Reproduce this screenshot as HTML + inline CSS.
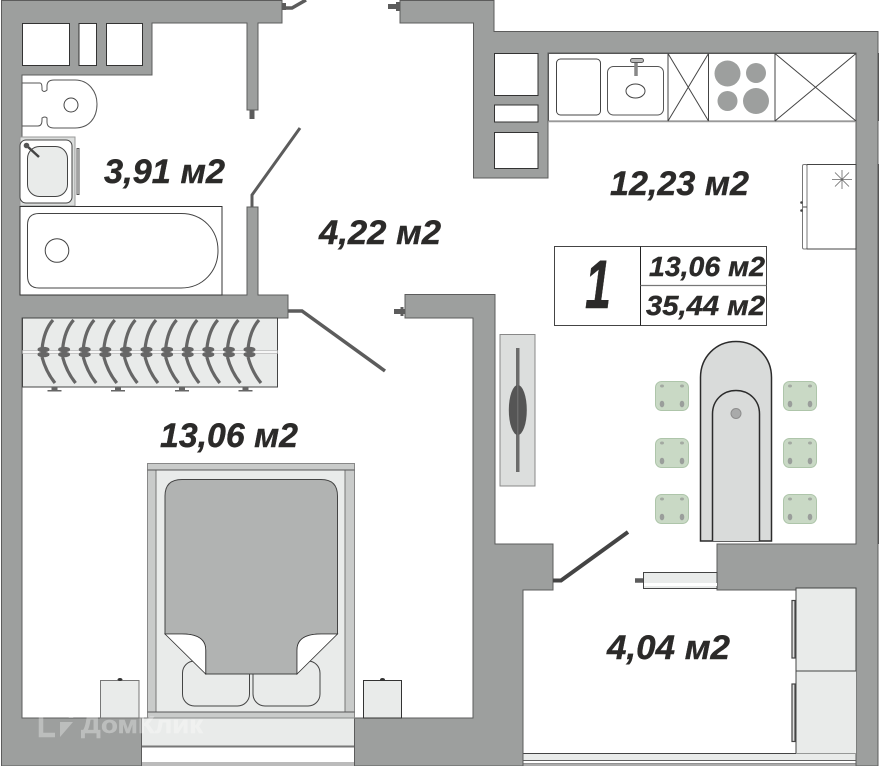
<!DOCTYPE html>
<html><head><meta charset="utf-8"><style>
html,body{margin:0;padding:0;background:#fff;width:879px;height:766px;overflow:hidden}
svg{display:block}
text{font-family:"Liberation Sans",sans-serif;font-weight:bold;font-style:italic;fill:#2b2a29;stroke:#2b2a29;stroke-width:.4px}
</style></head><body>
<svg width="879" height="766" viewBox="0 0 879 766" xmlns="http://www.w3.org/2000/svg">
<rect width="879" height="766" fill="#fff"/>
<!-- bedroom window -->
<rect x="141.500" y="718" width="213" height="48" fill="#fff"/>
<rect x="141.500" y="718" width="213" height="28" fill="#e9ebea" stroke="#777" stroke-width="1"/>
<rect x="141.500" y="747" width="213" height="16" fill="#fff" stroke="#777" stroke-width="1"/>
<rect x="141.500" y="763" width="213" height="3" fill="#bbb"/>
<!-- balcony window -->
<rect x="521.500" y="753.500" width="335" height="7" fill="#e9ebea" stroke="#444" stroke-width="1"/>
<rect x="521.500" y="760.500" width="335" height="3" fill="#fff" stroke="#444" stroke-width=".7"/>
<rect x="521.500" y="763.500" width="335" height="2.500" fill="#aaa"/>
<!-- walls -->
<g fill="#9d9f9e" stroke="#5c5c5c" stroke-width="1">
<path d="M1.500,0.500H282V23H258V110H247V23H152V75H22V295H247V207H258V295H288V318H22V718H141.500V766H1.500Z"/>
<path d="M400,0.500H494V31.500H878V766H856V590H717V544H856V53H548V178H473.500V23H400Z"/>
<path d="M405,294.500H495V544H553V590H523V766H354.500V718H473V318H405Z"/>
</g>
<!-- niches -->
<g fill="#fff" stroke="#333" stroke-width="1">
<rect x="22.500" y="23.500" width="47" height="42"/>
<rect x="79" y="23.500" width="17.500" height="42"/>
<rect x="106.500" y="23.500" width="36" height="42"/>
<rect x="494.500" y="53.500" width="43.500" height="42"/>
<rect x="494.500" y="105" width="43.500" height="17"/>
<rect x="494.500" y="132.500" width="43.500" height="36"/>
</g>
<rect x="877.500" y="53" width="1.500" height="68" fill="#555"/>
<rect x="877.500" y="164" width="1.500" height="380" fill="#555"/>
<!-- doors -->
<g fill="none" stroke="#5c5c5c" stroke-linejoin="miter">
<path d="M283,8H292L306,0" stroke-width="3.500"/>
<path d="M284,3V10" stroke-width="4"/>
<path d="M388,6.500H400" stroke-width="5"/>
<path d="M398,2V11" stroke-width="4"/>
<path d="M252,110V119" stroke-width="5"/>
<path d="M300,128L252,195V207" stroke-width="3"/>
<path d="M288,311H302L385,371" stroke-width="3.500"/>
<path d="M394,311.500H405" stroke-width="5"/>
<path d="M402,307V316" stroke-width="3"/>
<path d="M553,580.500H561L628,532" stroke="#444" stroke-width="4"/>
<path d="M635,580.500H644" stroke-width="4.500"/>
</g>
<rect x="643.500" y="572.500" width="73.500" height="16" fill="#e9ebea" stroke="#444" stroke-width="1"/>
<rect x="644" y="583" width="73" height="3" fill="#fff"/>
<!-- toilet -->
<path d="M22,83H40Q42,83 42,88V90Q44,93 47,90V86Q47,80 54,80H75C89,80 97,92 97,104C97,118 89,128 75,128H54Q47,128 47,122V118Q45,116 42,118V120Q42,126 38,126H22Z" fill="#fff" stroke="#555" stroke-width="1"/>
<circle cx="71" cy="105" r="7" fill="#fff" stroke="#444" stroke-width="1"/>
<!-- sink -->
<rect x="20" y="137" width="55" height="69" fill="#dcdedd" stroke="#999" stroke-width="1"/>
<rect x="20" y="140" width="52" height="63" rx="6" fill="#fff" stroke="#444" stroke-width="1"/>
<rect x="27.500" y="146.500" width="40" height="50" rx="12" fill="#e9ebea" stroke="#444" stroke-width="1"/>
<path d="M27,146L39,157" stroke="#444" stroke-width="2.500"/>
<circle cx="26.500" cy="145.500" r="2.800" fill="#555"/>
<path d="M78,148V195" stroke="#555" stroke-width="3" fill="none"/>
<path d="M78,149V194" stroke="#eee" stroke-width="1" fill="none"/>
<!-- bath -->
<rect x="20" y="206.500" width="202" height="88.500" fill="#fff" stroke="#333" stroke-width="1"/>
<path d="M39,213.500H181C203,213.500 218,230 218,250.500C218,271 203,288 181,288H39Q27.500,288 27.500,276V225Q27.500,213.500 39,213.500Z" fill="#fff" stroke="#444" stroke-width="1"/>
<circle cx="57" cy="250.500" r="11.800" fill="#fff" stroke="#444" stroke-width="1"/>
<!-- kitchen counter -->
<rect x="548.500" y="53.500" width="307.500" height="67.500" fill="#fff" stroke="#555" stroke-width="1"/>
<path d="M548,121.500H856" stroke="#999" stroke-width="1.500"/>
<rect x="556.500" y="59" width="44" height="56" rx="4" fill="#fff" stroke="#444" stroke-width="1"/>
<rect x="607.500" y="66.500" width="56" height="48.500" rx="6" fill="#fff" stroke="#555" stroke-width="1"/>
<ellipse cx="635.500" cy="91" rx="9.500" ry="7" fill="#fff" stroke="#444" stroke-width="1"/>
<path d="M636,60V76" stroke="#888" stroke-width="3.500"/>
<rect x="630.500" y="58.500" width="13" height="4" rx="2" fill="#bbb" stroke="#555" stroke-width="1"/>
<g stroke="#444" stroke-width="1" fill="none">
<path d="M668,53.500V121M708.500,53.500V121M775,53.500V121"/>
<path d="M668,53.500L708.500,121M708.500,53.500L668,121"/>
<path d="M775,53.500L856,121M856,53.500L775,121"/>
</g>
<g fill="#9d9f9e">
<circle cx="727.500" cy="73.500" r="13"/><circle cx="756" cy="73" r="10"/>
<circle cx="727.500" cy="101" r="10"/><circle cx="756" cy="101" r="13"/>
</g>
<!-- fridge -->
<rect x="807" y="164.500" width="49" height="84.500" fill="#fff" stroke="#444" stroke-width="1"/>
<rect x="802.500" y="164.500" width="4.500" height="84.500" rx="1.500" fill="#fff" stroke="#777" stroke-width="1"/>
<circle cx="801.500" cy="202.500" r="1.300" fill="#444"/><circle cx="801.500" cy="210.500" r="1.300" fill="#444"/>
<path d="M807,207H803" stroke="#444" stroke-width="1"/>
<path d="M842,170V189M832,179.500H852M835,172.500L849,186.500M849,172.500L835,186.500" stroke="#666" stroke-width=".8"/>
<!-- legend -->
<rect x="554.500" y="246.500" width="212" height="79" fill="#fff" stroke="#444" stroke-width="1"/>
<path d="M640.500,246.500V325.500" stroke="#222" stroke-width="1"/>
<path d="M640.500,285.500H766.500" stroke="#777" stroke-width="1.200"/>
<text x="585" y="308" font-size="69" textLength="26" lengthAdjust="spacingAndGlyphs">1</text>
<text x="649" y="276" font-size="28" textLength="116" lengthAdjust="spacingAndGlyphs">13,06 м2</text>
<text x="646" y="315" font-size="28" textLength="119" lengthAdjust="spacingAndGlyphs">35,44 м2</text>
<!-- TV -->
<rect x="500" y="334.500" width="35" height="151.500" fill="#dcdedd" stroke="#888" stroke-width="1"/>
<rect x="516" y="348" width="3.500" height="124" fill="#6b6b6b"/>
<ellipse cx="517.800" cy="410" rx="9" ry="25" fill="#555"/>
<path d="M517.800,385V435" stroke="#777" stroke-width="1"/>
<!-- table -->
<path d="M700.500,541V377.500C700.500,357 716,341.500 736,341.500C756,341.500 771.500,357 771.500,377.500V541Z" fill="#d9dbda" stroke="#2b2b2b" stroke-width="1.500"/>
<path d="M712.500,541V414C712.500,400 723,390.500 736,390.500C749,390.500 759.500,400 759.500,414V541" fill="#d9dbda" stroke="#2b2b2b" stroke-width="1.500"/>
<circle cx="736" cy="413.500" r="5" fill="#a9aaaa" stroke="#8d8d8d" stroke-width="1"/>
<!-- chairs -->
<defs><g id="ch">
<rect x="0.500" y="0.500" width="33" height="29" rx="6" fill="#c9d9c5" stroke="#aec5aa" stroke-width="1"/>
<ellipse cx="7" cy="5" rx="2" ry="1.500" fill="#a3a9a1"/><ellipse cx="27" cy="5" rx="2" ry="1.500" fill="#a3a9a1"/>
<ellipse cx="7" cy="23" rx="2.300" ry="3.300" fill="#9a9e9b"/><ellipse cx="27" cy="23" rx="2.300" ry="3.300" fill="#9a9e9b"/>
</g></defs>
<use href="#ch" x="655" y="381"/><use href="#ch" x="783" y="381"/>
<use href="#ch" x="655" y="438"/><use href="#ch" x="783" y="438"/>
<use href="#ch" x="655" y="494"/><use href="#ch" x="783" y="494"/>
<!-- wardrobe -->
<rect x="22.500" y="318" width="255" height="69" fill="#e9ebea" stroke="#444" stroke-width="1"/>
<rect x="22.500" y="350.500" width="255" height="3" fill="#f6f6f6" stroke="#aaa" stroke-width=".6"/>
<defs><g id="hg">
<path d="M42,349Q44,330 53,320" fill="none" stroke="#666" stroke-width="3.200"/>
<path d="M42,357Q46,372 55,383" fill="none" stroke="#666" stroke-width="3.200"/>
<ellipse cx="43.500" cy="349.500" rx="6" ry="2.800" fill="#666"/>
<ellipse cx="43.500" cy="354.500" rx="6" ry="2.800" fill="#666"/>
</g></defs>
<use href="#hg"/><use href="#hg" x="20.600"/><use href="#hg" x="41.200"/><use href="#hg" x="61.800"/><use href="#hg" x="82.400"/><use href="#hg" x="103"/><use href="#hg" x="123.600"/><use href="#hg" x="144.200"/><use href="#hg" x="164.800"/><use href="#hg" x="185.400"/><use href="#hg" x="206"/>
<g fill="#666">
<rect x="47.500" y="390" width="14" height="1.500"/><rect x="51.500" y="387" width="6" height="3"/>
<rect x="111" y="390" width="14" height="1.500"/><rect x="115" y="387" width="6" height="3"/>
<rect x="175" y="390" width="14" height="1.500"/><rect x="179" y="387" width="6" height="3"/>
<rect x="238.500" y="390" width="14" height="1.500"/><rect x="242.500" y="387" width="6" height="3"/>
</g>
<!-- bed -->
<rect x="147.500" y="463.500" width="207" height="254.500" fill="#c9cbca" stroke="#888" stroke-width="1"/>
<rect x="156" y="470" width="189" height="242" fill="#e9ebea" stroke="#777" stroke-width="1"/>
<path d="M147.500,470H354.500M147.500,712H354.500" stroke="#555" stroke-width="1"/>
<rect x="182.500" y="661" width="67" height="45" rx="12" fill="#e9ebea" stroke="#444" stroke-width="1"/>
<rect x="253" y="661" width="67" height="45" rx="12" fill="#e9ebea" stroke="#444" stroke-width="1"/>
<path d="M165,496Q165,479.500 182,479.500H321Q337.500,479.500 337.500,496V634H321Q297,634 297,650V674H205.700V650Q205.700,634 182,634H165Z" fill="#b1b3b2" stroke="#444" stroke-width="1"/>
<path d="M165,634H182Q205.700,634 205.700,650V674Z" fill="#fff" stroke="#333" stroke-width=".8"/>
<path d="M337.500,634H321Q297,634 297,650V674Z" fill="#fff" stroke="#333" stroke-width=".8"/>
<!-- nightstands -->
<rect x="100.500" y="680.500" width="38.500" height="37.500" fill="#e9ebea" stroke="#777" stroke-width="1"/>
<rect x="363.500" y="680.500" width="38" height="37.500" fill="#e9ebea" stroke="#333" stroke-width="1"/>
<ellipse cx="120" cy="679.500" rx="2.500" ry="1.500" fill="#333"/>
<ellipse cx="382.500" cy="679.500" rx="2.500" ry="1.500" fill="#333"/>
<!-- closet -->
<rect x="796" y="588" width="60" height="83" fill="#e9ebea" stroke="#444" stroke-width="1"/>
<rect x="796" y="671" width="60" height="82.500" fill="#e9ebea" stroke="#444" stroke-width="0"/>
<path d="M796,671V753M796,671H856" stroke="#444" stroke-width="1" fill="none"/>
<g fill="none" stroke="#444" stroke-width="1.200">
<rect x="792" y="600.500" width="3" height="57.500" fill="#ddd"/>
<rect x="792" y="684" width="3" height="57.500" fill="#ddd"/>
</g>
<!-- labels -->
<text x="104" y="183" font-size="34" textLength="121" lengthAdjust="spacingAndGlyphs">3,91 м2</text>
<text x="610" y="195" font-size="34" textLength="139" lengthAdjust="spacingAndGlyphs">12,23 м2</text>
<text x="319" y="244" font-size="34" textLength="122" lengthAdjust="spacingAndGlyphs">4,22 м2</text>
<text x="160" y="447" font-size="34" textLength="138" lengthAdjust="spacingAndGlyphs">13,06 м2</text>
<text x="607" y="659" font-size="34" textLength="123" lengthAdjust="spacingAndGlyphs">4,04 м2</text>
<!-- watermark -->
<g opacity=".32">
<path d="M71,718V714L55,704L41,713V735H55" fill="none" stroke="#fff" stroke-width="4.500"/>
<path d="M60,722H73L60,737Z" fill="#fff"/>
<text x="81" y="733" font-size="24" textLength="122" lengthAdjust="spacingAndGlyphs" style="fill:#fff;stroke:#fff;font-style:normal">ДомКлик</text>
</g>
</svg>
</body></html>
